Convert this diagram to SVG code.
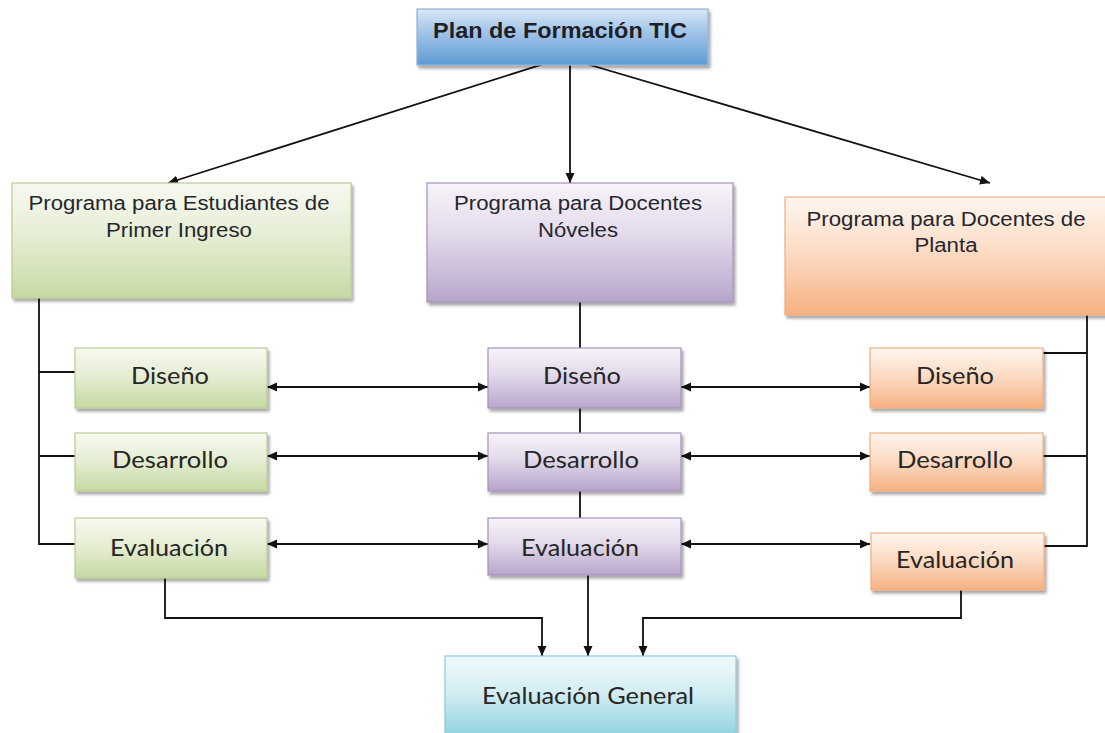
<svg xmlns="http://www.w3.org/2000/svg" width="1105" height="733" viewBox="0 0 1105 733">
<defs>
<linearGradient id="gBlue" x1="0" y1="0" x2="0" y2="1">
<stop offset="0" stop-color="#d9e8f6"/><stop offset="0.35" stop-color="#a9c9e9"/><stop offset="1" stop-color="#5e9bd3"/>
</linearGradient>
<linearGradient id="gGreen" x1="0" y1="0" x2="0" y2="1">
<stop offset="0" stop-color="#f7f9f0"/><stop offset="0.45" stop-color="#e6eed5"/><stop offset="1" stop-color="#c6d9a3"/>
</linearGradient>
<linearGradient id="gPurple" x1="0" y1="0" x2="0" y2="1">
<stop offset="0" stop-color="#f7f4f9"/><stop offset="0.45" stop-color="#e2d9ea"/><stop offset="1" stop-color="#b7a5cb"/>
</linearGradient>
<linearGradient id="gOrange" x1="0" y1="0" x2="0" y2="1">
<stop offset="0" stop-color="#fef6f0"/><stop offset="0.45" stop-color="#fbdcc5"/><stop offset="1" stop-color="#f6b182"/>
</linearGradient>
<linearGradient id="gCyan" x1="0" y1="0" x2="0" y2="1">
<stop offset="0" stop-color="#f1f9fb"/><stop offset="0.45" stop-color="#d3eef3"/><stop offset="1" stop-color="#8fd2df"/>
</linearGradient>
<filter id="sh" x="-5%" y="-10%" width="112%" height="130%">
<feGaussianBlur in="SourceAlpha" stdDeviation="1.5"/>
<feOffset dx="2" dy="3" result="o"/>
<feComponentTransfer><feFuncA type="linear" slope="0.35"/></feComponentTransfer>
<feMerge><feMergeNode/><feMergeNode in="SourceGraphic"/></feMerge>
</filter>
<marker id="ah" viewBox="0 0 10 10" refX="10" refY="5" markerWidth="10" markerHeight="10" markerUnits="userSpaceOnUse" orient="auto-start-reverse">
<path d="M0,0.5 L10,5 L0,9.5 z" fill="#111"/>
</marker>
</defs>
<style>
.box{stroke-width:1.2;filter:url(#sh)}
.blue{fill:url(#gBlue);stroke:#8fb2d6}
.green{fill:url(#gGreen);stroke:#b9cc94}
.purple{fill:url(#gPurple);stroke:#a592bb}
.orange{fill:url(#gOrange);stroke:#f0ad80}
.cyan{fill:url(#gCyan);stroke:#8ccbd8}
.ta{font-family:"Liberation Sans",Arial,sans-serif;font-size:20px;fill:#26262e;text-anchor:middle}
.tt{font-family:"Liberation Sans",Arial,sans-serif;font-size:22px;font-weight:bold;fill:#1f1f28;text-anchor:middle}
.tc{font-family:Lato,"Open Sans",sans-serif;font-size:24px;fill:#262626;text-anchor:middle}
.ln{fill:none;stroke:#111;stroke-width:1.8}
.arr{marker-end:url(#ah)}
.bi{marker-start:url(#ah);marker-end:url(#ah)}
</style>

<g id="connectors">
<path class="ln arr" d="M553,61 L168,183"/>
<path class="ln arr" d="M570,65 L570,183"/>
<path class="ln arr" d="M580,62 L990,183"/>
<path class="ln" d="M39,298 V544 H75 M39,372 H75 M39,456 H75"/>
<path class="ln" d="M1087,314 V546 H1043 M1043,353 H1087 M1043,456 H1087"/>
<path class="ln" d="M580,302 V348 M580,408 V433 M580,491 V518"/>
<path class="ln bi" d="M267,387 H488"/>
<path class="ln bi" d="M267,456 H488"/>
<path class="ln bi" d="M267,544 H488"/>
<path class="ln bi" d="M681,387 H870"/>
<path class="ln bi" d="M681,456 H870"/>
<path class="ln bi" d="M681,544 H870"/>
<path class="ln arr" d="M165,578 V618 H542 V656"/>
<path class="ln arr" d="M588,575 V656"/>
<path class="ln arr" d="M961,590 V618 H643 V656"/>
</g>

<g id="plan">
<rect class="box blue" x="417" y="9" width="291" height="56"/>
<text class="tt" x="560" y="38" textLength="254" lengthAdjust="spacingAndGlyphs">Plan de Formación TIC</text>
</g>

<g id="prog-estudiantes">
<rect class="box green" x="12" y="183" width="339" height="115"/>
<text class="ta" x="179" y="210" textLength="301" lengthAdjust="spacingAndGlyphs">Programa para Estudiantes de</text>
<text class="ta" x="179" y="237" textLength="146" lengthAdjust="spacingAndGlyphs">Primer Ingreso</text>
</g>

<g id="prog-noveles">
<rect class="box purple" x="427" y="183" width="306" height="119"/>
<text class="ta" x="578" y="210" textLength="248" lengthAdjust="spacingAndGlyphs">Programa para Docentes</text>
<text class="ta" x="578" y="237" textLength="80" lengthAdjust="spacingAndGlyphs">Nóveles</text>
</g>

<g id="prog-planta">
<rect class="box orange" x="785" y="197" width="324" height="118"/>
<text class="ta" x="946" y="226" textLength="279" lengthAdjust="spacingAndGlyphs">Programa para Docentes de</text>
<text class="ta" x="946" y="252" textLength="63" lengthAdjust="spacingAndGlyphs">Planta</text>
</g>

<g id="g-diseno">
<rect class="box green" x="75" y="348" width="192" height="60"/>
<text class="tc" x="170" y="384" textLength="78" lengthAdjust="spacingAndGlyphs">Diseño</text>
</g>
<g id="g-desarrollo">
<rect class="box green" x="75" y="433" width="192" height="58"/>
<text class="tc" x="170" y="468" textLength="116" lengthAdjust="spacingAndGlyphs">Desarrollo</text>
</g>
<g id="g-evaluacion">
<rect class="box green" x="75" y="518" width="192" height="60"/>
<text class="tc" x="169" y="556" textLength="118" lengthAdjust="spacingAndGlyphs">Evaluación</text>
</g>

<g id="p-diseno">
<rect class="box purple" x="488" y="348" width="193" height="60"/>
<text class="tc" x="582" y="384" textLength="78" lengthAdjust="spacingAndGlyphs">Diseño</text>
</g>
<g id="p-desarrollo">
<rect class="box purple" x="488" y="433" width="193" height="58"/>
<text class="tc" x="581" y="468" textLength="116" lengthAdjust="spacingAndGlyphs">Desarrollo</text>
</g>
<g id="p-evaluacion">
<rect class="box purple" x="488" y="518" width="193" height="57"/>
<text class="tc" x="580" y="556" textLength="118" lengthAdjust="spacingAndGlyphs">Evaluación</text>
</g>

<g id="o-diseno">
<rect class="box orange" x="870" y="348" width="173" height="60"/>
<text class="tc" x="955" y="384" textLength="78" lengthAdjust="spacingAndGlyphs">Diseño</text>
</g>
<g id="o-desarrollo">
<rect class="box orange" x="870" y="433" width="173" height="58"/>
<text class="tc" x="955" y="468" textLength="116" lengthAdjust="spacingAndGlyphs">Desarrollo</text>
</g>
<g id="o-evaluacion">
<rect class="box orange" x="871" y="533" width="173" height="57"/>
<text class="tc" x="955" y="568" textLength="118" lengthAdjust="spacingAndGlyphs">Evaluación</text>
</g>

<g id="eval-general">
<rect class="box cyan" x="445" y="656" width="291" height="80"/>
<text class="tc" x="588" y="704" textLength="212" lengthAdjust="spacingAndGlyphs">Evaluación General</text>
</g>
</svg>
